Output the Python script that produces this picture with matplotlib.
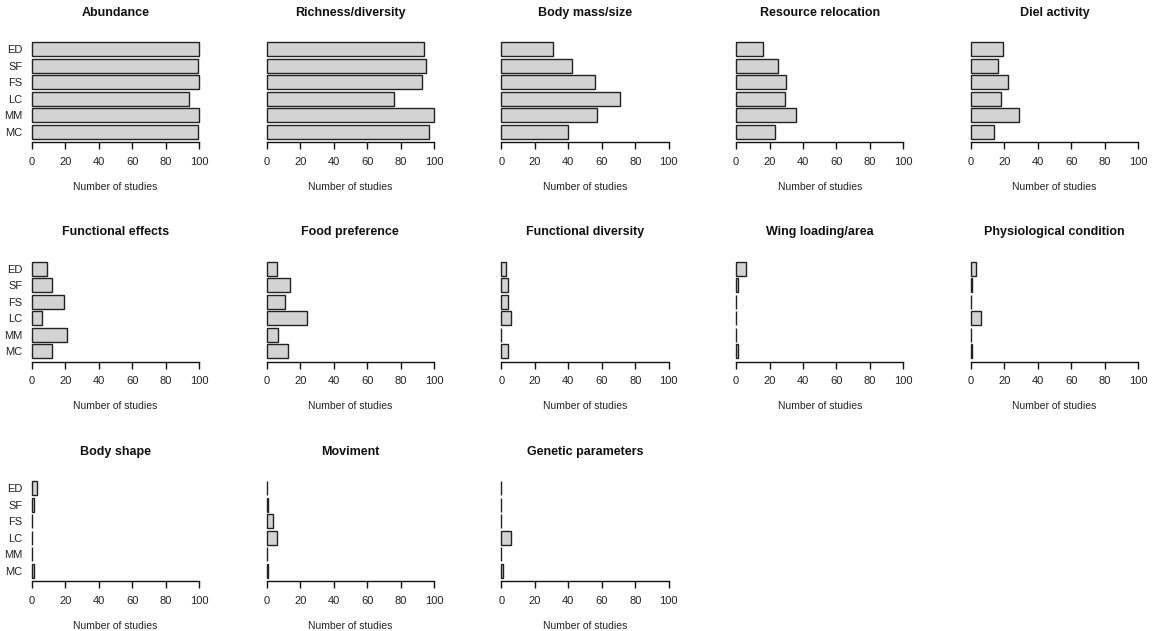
import matplotlib
matplotlib.use("Agg")
import matplotlib.pyplot as plt
import numpy as np

plt.rcParams['font.family'] = ['Liberation Sans Narrow', 'Liberation Sans', 'DejaVu Sans']

groups = ["ED", "SF", "FS", "LC", "MM", "MC"]  # top to bottom

titles = ["Abundance", "Richness/diversity", "Body mass/size", "Resource relocation", "Diel activity",
          "Functional effects", "Food preference", "Functional diversity", "Wing loading/area",
          "Physiological condition", "Body shape", "Moviment", "Genetic parameters"]

abundance = [100, 99, 100, 94, 100, 99]
richness = [94, 95, 93, 76, 100, 97]
body_mass = [31, 42, 56, 71, 57, 40]
resource_relocation = [16, 25, 30, 29, 36, 23]
diel_activity = [19, 16, 22, 18, 29, 14]
functional_effects = [9, 12, 19, 6, 21, 12]
food_preference = [6, 14, 11, 24, 7, 13]
functional_diversity = [3, 4, 4, 6, 0, 4]
wing_loading = [6, 1, 0, 0, 0, 1]
physiological = [3, 1, 0, 6, 0, 1]
body_shape = [3, 1, 0, 0, 0, 1]
moviment = [0, 1, 4, 6, 0, 1]
genetic = [0, 0, 0, 6, 0, 1]

series = [abundance, richness, body_mass, resource_relocation, diel_activity,
          functional_effects, food_preference, functional_diversity, wing_loading,
          physiological, body_shape, moviment, genetic]

xticks = [0, 20, 40, 60, 80, 100]
xlabel = "Number of studies"

W, H = 1156, 631
fig = plt.figure(figsize=(W / 100, H / 100), dpi=100)

col_x0 = 32.0
col_pitch = 234.7
ax_w = 167.3
row_top0 = 42.3
row_pitch = 219.5
ax_h = 100.0

# bar positions (R barplot, space=0.2, width=1), MC at bottom
n = len(groups)
centers = 0.2 + 0.5 + np.arange(n) * 1.2  # bottom to top
centers = centers[::-1]  # ED at top

for i, (title, vals) in enumerate(zip(titles, series)):
    r, c = divmod(i, 5)
    left = col_x0 + c * col_pitch
    top = row_top0 + r * row_pitch
    bottom = top + ax_h
    ax = fig.add_axes([left / W, 1 - bottom / H, ax_w / W, ax_h / H])
    ax.barh(centers, vals, height=1.0, color="#d3d3d3", edgecolor="#222222",
            linewidth=1.0, clip_on=False)
    ax.set_xlim(0, 100)
    ax.set_ylim(-0.06, 7.2)
    for s in ["top", "right", "left"]:
        ax.spines[s].set_visible(False)
    ax.spines["bottom"].set_linewidth(1.0)
    ax.spines["bottom"].set_color("#111111")
    ax.set_xticks(xticks)
    ax.set_xticklabels([str(t) for t in xticks], fontsize=8, color="#222222")
    ax.tick_params(axis="x", length=4.8, width=1.0, pad=5.5, color="#111111")
    if c == 0:
        ax.set_yticks(centers)
        ax.set_yticklabels(groups, fontsize=8, color="#222222")
        ax.tick_params(axis="y", length=0, pad=7)
    else:
        ax.set_yticks([])
    cx = (left + ax_w / 2) / W
    fig.text(cx, 1 - (top - 29.5) / H, title, ha="center", va="center",
             fontsize=9, fontweight="bold", color="#111111")
    fig.text(cx, 1 - (bottom + 44.4) / H, xlabel, ha="center", va="center",
             fontsize=7.5, color="#222222")

fig.savefig("out.png", dpi=100, facecolor="white")
